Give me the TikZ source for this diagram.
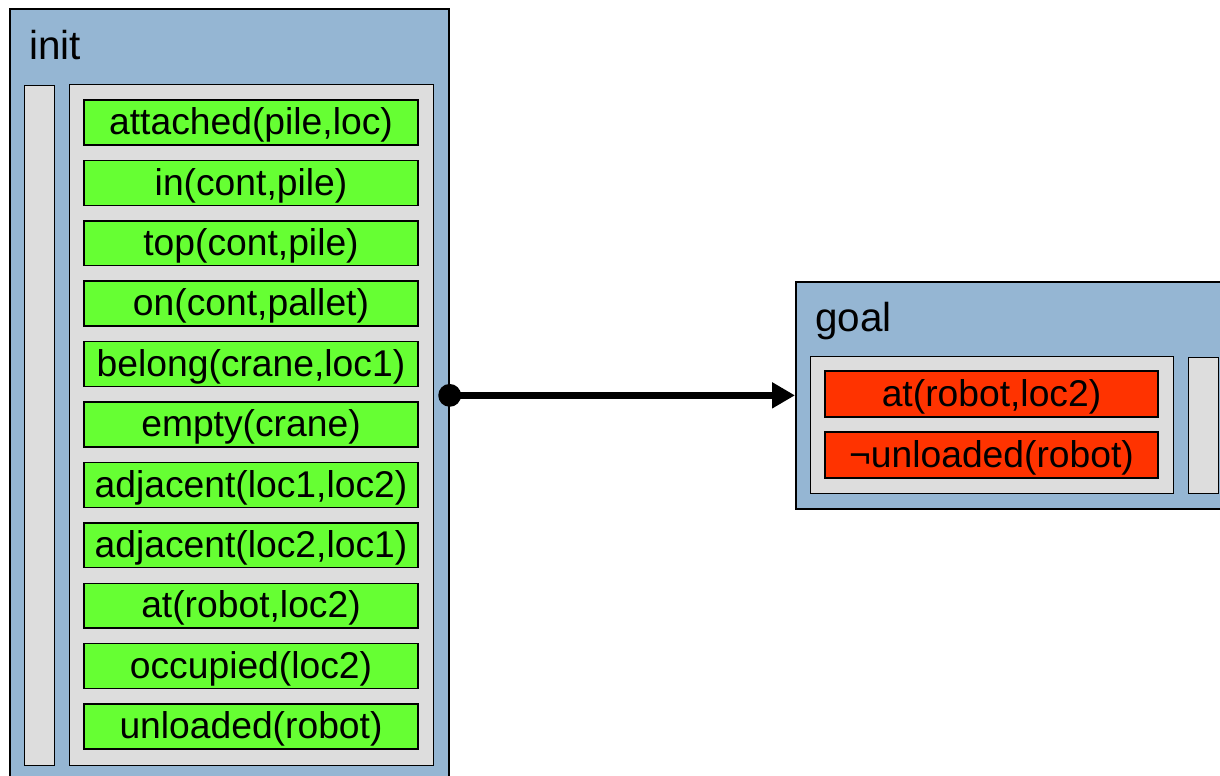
\documentclass[tikz,border=0pt]{standalone}
\usepackage{fontspec}
\setmainfont{Liberation Sans}
\usetikzlibrary{arrows.meta}

\definecolor{panelblue}{HTML}{95B6D3}
\definecolor{listgray}{HTML}{DDDDDD}
\definecolor{factgreen}{HTML}{66FF33}
\definecolor{goalred}{HTML}{FF3300}

\tikzset{
  panel/.style={draw,line width=1pt,fill=panelblue,anchor=north west,inner sep=0pt},
  listbox/.style={draw,line width=0.8pt,fill=listgray,anchor=north west,inner sep=0pt},
  fact/.style={draw,line width=0.8pt,fill=factgreen,minimum width=6.68cm,minimum height=0.9cm,
    inner sep=0pt,text height=15.5pt,text depth=1.5pt,font=\fontsize{21.2}{25}\selectfont},
  goalfact/.style={fact,fill=goalred,minimum width=6.66cm,minimum height=0.92cm},
  title/.style={anchor=base west,inner sep=0pt,font=\fontsize{23}{28}\selectfont},
  flow/.style={line width=4pt,-{Triangle[length=13pt,width=14pt]}}
}

\begin{document}
\begin{tikzpicture}[line join=miter,x=0.02cm,y=-0.02cm]
\clip (0,0) rectangle (1220,776);
% init state
\node[panel,minimum width=8.78cm,minimum height=16cm] (init) at (9,8) {};
\node[title] (initlbl) at (29,60) {init};
\node[listbox,minimum width=0.6cm,minimum height=13.6cm] (initbar) at (24,85) {};
\node[listbox,minimum width=7.28cm,minimum height=13.62cm] (initlist) at (69,84) {};
\foreach \t [count=\i from 0] in {{attached(pile,loc)},{in(cont,pile)},{top(cont,pile)},
  {on(cont,pallet)},{belong(crane,loc1)},{empty(crane)},{adjacent(loc1,loc2)},
  {adjacent(loc2,loc1)},{at(robot,loc2)},{occupied(loc2)},{unloaded(robot)}}
  \node[fact] (f\i) at (251,122.5+60.4*\i) {\t};
% goal
\node[panel,minimum width=9cm,minimum height=4.54cm] (goal) at (795,281) {};
\node[title] (goallbl) at (815,332) {goal};
\node[listbox,minimum width=7.26cm,minimum height=2.74cm] (goallist) at (810,356) {};
\node[listbox,minimum width=0.6cm,minimum height=2.72cm] (goalbar) at (1188,357) {};
\node[goalfact] (g0) at (991.5,394) {at(robot,loc2)};
\node[goalfact] (g1) at (991.5,455) {¬unloaded(robot)};
% transition
\coordinate (src) at (init.east |- goal.west);
\draw[flow] (src) -- (goal.west);
\fill (src) circle[radius=6.5pt];
\end{tikzpicture}
\end{document}
